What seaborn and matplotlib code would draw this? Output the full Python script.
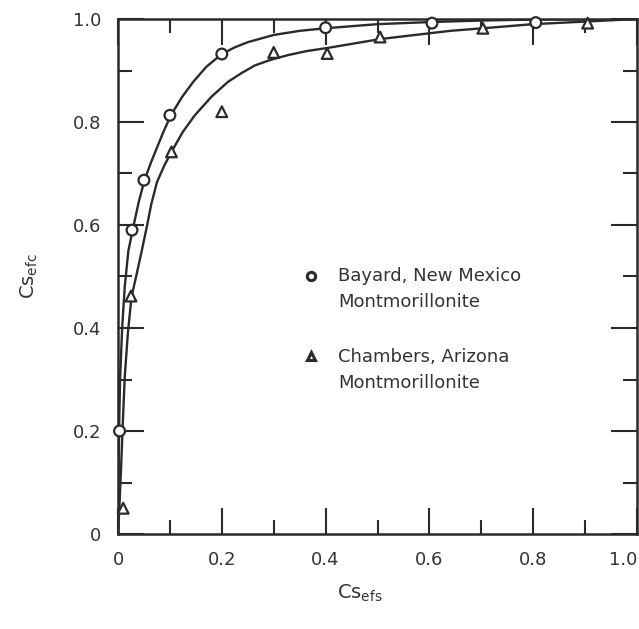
import numpy as np
import pandas as pd
import matplotlib
matplotlib.use("Agg")
import matplotlib.pyplot as plt
from matplotlib.lines import Line2D
from matplotlib.legend_handler import HandlerLine2D
from matplotlib.ticker import MultipleLocator
import seaborn as sns

# ---- data ----
bayard_x = [0.003, 0.027, 0.05, 0.10, 0.20, 0.40, 0.605, 0.805]
bayard_y = [0.20, 0.59, 0.687, 0.813, 0.932, 0.983, 0.992, 0.993]

chambers_x = [0.01, 0.025, 0.103, 0.20, 0.30, 0.403, 0.505, 0.703, 0.905]
chambers_y = [0.05, 0.462, 0.742, 0.82, 0.935, 0.933, 0.965, 0.982, 0.992]

bayard_curve_x = [0, 0.001, 0.002, 0.004, 0.008, 0.013, 0.020, 0.029, 0.040, 0.051,
                  0.063, 0.075, 0.088, 0.102, 0.123, 0.145, 0.17, 0.20, 0.225, 0.25,
                  0.30, 0.35, 0.40, 0.50, 0.60, 0.70, 0.80, 0.90, 1.0]
bayard_curve_y = [0, 0.10, 0.20, 0.30, 0.40, 0.48, 0.55, 0.594, 0.645, 0.687,
                  0.72, 0.75, 0.782, 0.813, 0.848, 0.878, 0.907, 0.932, 0.945, 0.955,
                  0.969, 0.977, 0.982, 0.990, 0.994, 0.997, 0.999, 1.0, 1.0]

chambers_curve_x = [0, 0.003, 0.006, 0.009, 0.013, 0.019, 0.026, 0.036, 0.046, 0.055,
                    0.064, 0.075, 0.089, 0.103, 0.125, 0.148, 0.18, 0.212, 0.238, 0.264,
                    0.295, 0.328, 0.365, 0.405, 0.505, 0.64, 0.703, 0.80, 0.90, 1.0]
chambers_curve_y = [0, 0.06, 0.13, 0.21, 0.305, 0.39, 0.46, 0.505, 0.551, 0.594,
                    0.64, 0.683, 0.715, 0.742, 0.781, 0.813, 0.849, 0.878, 0.895, 0.91,
                    0.921, 0.93, 0.938, 0.944, 0.961, 0.977, 0.982, 0.990, 0.995, 1.0]

labels = ["Bayard, New Mexico\nMontmorillonite", "Chambers, Arizona\nMontmorillonite"]
xticks = [0, 0.2, 0.4, 0.6, 0.8, 1.0]
xticklabels = ["0", "0.2", "0.4", "0.6", "0.8", "1.0"]
yticks = [0, 0.2, 0.4, 0.6, 0.8, 1.0]
yticklabels = ["0", "0.2", "0.4", "0.6", "0.8", "1.0"]

# ---- build tables ----
pts = pd.DataFrame({
    "x": bayard_x + chambers_x,
    "y": bayard_y + chambers_y,
    "clay": [labels[0]] * len(bayard_x) + [labels[1]] * len(chambers_x),
})
curves = pd.DataFrame({
    "x": bayard_curve_x + chambers_curve_x,
    "y": bayard_curve_y + chambers_curve_y,
    "clay": [labels[0]] * len(bayard_curve_x) + [labels[1]] * len(chambers_curve_x),
})

sns.set_theme(style="white")
plt.rcParams["font.family"] = ["DejaVu Sans"]
plt.rcParams["mathtext.fontset"] = "dejavusans"

fig = plt.figure(figsize=(6.39, 6.29), dpi=100)
ax = fig.add_axes([118 / 639, 95 / 629, 519 / 639, 515 / 629])

sns.lineplot(data=curves, x="x", y="y", units="clay", estimator=None, sort=False,
             color="#2a2a2a", linewidth=1.7, ax=ax, legend=False)
sns.scatterplot(data=pts, x="x", y="y", style="clay", markers=["o", "^"],
                s=60, facecolor="white", edgecolor="#2a2a2a", linewidth=1.6,
                ax=ax, legend=False, zorder=5, clip_on=False)

ax.set_xlim(0, 1.0)
ax.set_ylim(0, 1.0)
ax.set_xticks(xticks)
ax.set_xticklabels(xticklabels)
ax.set_yticks(yticks)
ax.set_yticklabels(yticklabels)
ax.xaxis.set_minor_locator(MultipleLocator(0.1))
ax.yaxis.set_minor_locator(MultipleLocator(0.1))
ax.tick_params(which="major", direction="in", length=19, width=1.5, color="#2a2a2a",
               top=True, right=True, bottom=True, left=True,
               labelsize=13, labelcolor="#333333", pad=12)
ax.tick_params(which="minor", direction="in", length=10, width=1.5, color="#2a2a2a",
               top=True, right=True, bottom=True, left=True)
for s in ax.spines.values():
    s.set_linewidth(1.8)
    s.set_color("#2a2a2a")
    s.set_visible(True)
xt = ax.get_xticklabels()
xt[-1].set_horizontalalignment("right")

ax.set_xlabel(r"Cs$_{\mathrm{efs}}$", fontsize=14, color="#333333")
ax.set_ylabel(r"Cs$_{\mathrm{efc}}$", fontsize=14, color="#333333")
ax.xaxis.set_label_coords(0.465, -0.095)
ax.yaxis.set_label_coords(-0.15, 0.5)


class TopHandler(HandlerLine2D):
    """Place the legend marker beside the first line of a two-line label."""
    def create_artists(self, legend, orig_handle, xdescent, ydescent, width,
                       height, fontsize, trans):
        arts = super().create_artists(legend, orig_handle, xdescent, ydescent,
                                      width, height, fontsize, trans)
        for a in arts:
            a.set_ydata([yy + 0.78 * fontsize for yy in a.get_ydata()])
        return arts


handles = [
    Line2D([], [], marker="o", linestyle="none", markersize=6, markeredgewidth=2.2,
           markerfacecolor="white", markeredgecolor="#2a2a2a"),
    Line2D([], [], marker="^", linestyle="none", markersize=6, markeredgewidth=2.2,
           markerfacecolor="white", markeredgecolor="#2a2a2a"),
]
leg = ax.legend(handles, labels, loc="upper left", bbox_to_anchor=(0.32, 0.55),
                frameon=False, prop={"size": 13}, labelspacing=2.0,
                handletextpad=0.9, handlelength=1.2,
                handler_map={Line2D: TopHandler()})
for t in leg.get_texts():
    t.set_color("#333333")
    t.set_linespacing(1.6)

fig.savefig("out.png", dpi=100)
